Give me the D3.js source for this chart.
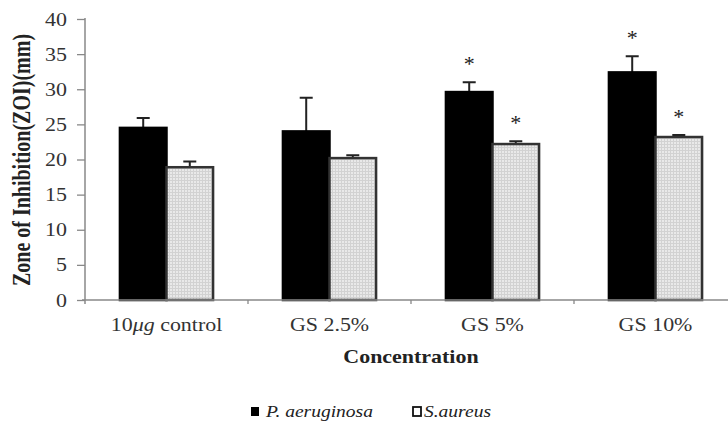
<!DOCTYPE html>
<html>
<head>
<meta charset="utf-8">
<script src="https://cdn.jsdelivr.net/npm/d3@7"></script>
<style>
  body { margin: 0; background: #fff; }
</style>
</head>
<body>
<div id="chart"></div>
<script>
// chart data
var categories = ["10μg control", "GS 2.5%", "GS 5%", "GS 10%"];
var seriesNames = ["P. aeruginosa", "S.aureus"];
var paeruginosa = [24.5, 24.0, 29.6, 32.4];
var paeruginosaErr = [1.4, 4.8, 1.4, 2.3];
var saureus = [18.9, 20.2, 22.2, 23.2];
var saureusErr = [0.8, 0.4, 0.4, 0.3];
var paeruginosaStar = [false, false, true, true];
var saureusStar = [false, false, true, true];
var yTicks = [0, 5, 10, 15, 20, 25, 30, 35, 40];

// picture looks stretched sideways, so text gets a small x stretch
var stretch = 1.22;
var serif = "Liberation Serif, Times New Roman, serif";

var svgWidth = 728, svgHeight = 426;
var margin = { top: 19, left: 85, bottom: 126 };
var plotBottom = svgHeight - margin.bottom; // 300

var svg = d3.select("#chart").append("svg")
  .attr("width", svgWidth)
  .attr("height", svgHeight)
  .attr("font-family", serif);

// fine grey grid fill like the original
var defs = svg.append("defs");
var pat = defs.append("pattern")
  .attr("id", "grid")
  .attr("width", 3).attr("height", 3)
  .attr("patternUnits", "userSpaceOnUse");
pat.append("rect").attr("width", 3).attr("height", 3).attr("fill", "#e9e9e9");
pat.append("path").attr("d", "M0,0.5H3M0.5,0V3")
  .attr("stroke", "#d2d2d2").attr("stroke-width", 1);

var y = d3.scaleLinear()
  .domain([0, 40])
  .range([plotBottom, margin.top]);

var x0 = d3.scaleBand()
  .domain(categories)
  .range([margin.left, margin.left + 163 * categories.length])
  .padding(0);

var x1 = d3.scaleBand()
  .domain(seriesNames)
  .range([0, x0.bandwidth()])
  .paddingInner(0)
  .paddingOuter(0.75);

var rows = categories.map(function(c, i) {
  return { cat: c, bars: [
    { s: seriesNames[0], v: paeruginosa[i], e: paeruginosaErr[i], star: paeruginosaStar[i] },
    { s: seriesNames[1], v: saureus[i], e: saureusErr[i], star: saureusStar[i] }
  ]};
});

// y axis
var yAxis = svg.append("g")
  .attr("transform", `translate(${margin.left},0)`)
  .call(d3.axisLeft(y).tickValues(yTicks).tickSize(8).tickPadding(0))
  .attr("font-family", serif);
yAxis.select(".domain").remove();
yAxis.selectAll(".tick line").attr("stroke", "#888").attr("stroke-width", 1.3);
yAxis.selectAll(".tick text")
  .attr("x", 0)
  .attr("dy", "0.34em")
  .attr("transform", `translate(-18,0) scale(${stretch},1)`)
  .attr("font-family", serif)
  .attr("font-size", "18px")
  .attr("fill", "#333")
  .attr("text-anchor", "end");
svg.append("line")
  .attr("x1", margin.left).attr("x2", margin.left)
  .attr("y1", margin.top - 1).attr("y2", plotBottom + 4)
  .attr("stroke", "#888").attr("stroke-width", 1.5);

// bars
var groups = svg.append("g").selectAll("g")
  .data(rows)
  .enter()
  .append("g")
  .attr("transform", d => `translate(${x0(d.cat)},0)`);

// error bars first so bars sit on top of their stems
groups.selectAll("path.err")
  .data(d => d.bars)
  .enter()
  .append("path")
  .attr("class", "err")
  .attr("d", function(d) {
    var cx = x1(d.s) + x1.bandwidth() / 2;
    var top = y(d.v + d.e);
    return `M${cx},${y(d.v)}V${top}M${cx - 6.5},${top}H${cx + 6.5}`;
  })
  .attr("fill", "none")
  .attr("stroke", "#222")
  .attr("stroke-width", 2);

groups.selectAll("rect")
  .data(d => d.bars)
  .enter()
  .append("rect")
  .attr("x", d => x1(d.s))
  .attr("y", d => y(d.v))
  .attr("width", x1.bandwidth())
  .attr("height", d => plotBottom - y(d.v))
  .attr("fill", d => d.s === seriesNames[0] ? "#000" : "url(#grid)")
  .attr("stroke", d => d.s === seriesNames[0] ? "#000" : "#333")
  .attr("stroke-width", 2.5);

// significance marks
groups.selectAll("text.star")
  .data(d => d.bars.filter(b => b.star))
  .enter()
  .append("text")
  .attr("class", "star")
  .attr("x", d => x1(d.s) + x1.bandwidth() / 2)
  .attr("y", d => y(d.v + d.e) - 22 + 11)
  .attr("text-anchor", "middle")
  .attr("font-family", serif)
  .attr("font-size", "22px")
  .attr("fill", "#222")
  .text("*");

// x axis
svg.append("line")
  .attr("x1", margin.left - 3).attr("x2", svgWidth)
  .attr("y1", plotBottom).attr("y2", plotBottom)
  .attr("stroke", "#888").attr("stroke-width", 1.5);
svg.append("g").selectAll("line")
  .data(categories.slice(1))
  .enter()
  .append("line")
  .attr("x1", d => x0(d)).attr("x2", d => x0(d))
  .attr("y1", plotBottom).attr("y2", plotBottom + 4)
  .attr("stroke", "#888").attr("stroke-width", 1.3);

var catLabels = svg.append("g").selectAll("text")
  .data(categories)
  .enter()
  .append("text")
  .attr("transform", d => `translate(${x0(d) + x0.bandwidth() / 2},${plotBottom + 31}) scale(${stretch},1)`)
  .attr("text-anchor", "middle")
  .attr("font-family", serif)
  .attr("font-size", "18px")
  .attr("fill", "#333");
catLabels.each(function(d) {
  var t = d3.select(this);
  var m = d.match(/^(\d+)(μg)(.*)$/);
  if (m) {
    t.append("tspan").text(m[1]);
    t.append("tspan").attr("font-style", "italic").text(m[2]);
    t.append("tspan").text(m[3]);
  } else {
    t.text(d);
  }
});

// axis titles
svg.append("text")
  .attr("transform", `translate(411,${plotBottom + 63}) scale(${stretch},1)`)
  .attr("text-anchor", "middle")
  .attr("font-family", serif)
  .attr("font-size", "18px")
  .attr("font-weight", "bold")
  .attr("fill", "#222")
  .text("Concentration");

svg.append("text")
  .attr("transform", `translate(30,160) scale(${stretch},1) rotate(-90)`)
  .attr("text-anchor", "middle")
  .attr("font-family", serif)
  .attr("font-size", "20px")
  .attr("font-weight", "bold")
  .attr("fill", "#222")
  .text("Zone of Inhibition(ZOI)(mm)");

// legend
var legend = svg.append("g");
var legendX = [251, 413];
seriesNames.forEach(function(name, i) {
  legend.append("rect")
    .attr("x", legendX[i]).attr("y", 407)
    .attr("width", 8).attr("height", 9)
    .attr("fill", i === 0 ? "#000" : "#fff")
    .attr("stroke", "#111")
    .attr("stroke-width", i === 0 ? 0 : 1.8);
  legend.append("text")
    .attr("transform", `translate(${legendX[i] + (i === 0 ? 15 : 11)},417) scale(${stretch},1)`)
    .attr("font-family", serif)
    .attr("font-size", "16px")
    .attr("font-style", "italic")
    .attr("fill", "#222")
    .text(name);
});
</script>
</body>
</html>
